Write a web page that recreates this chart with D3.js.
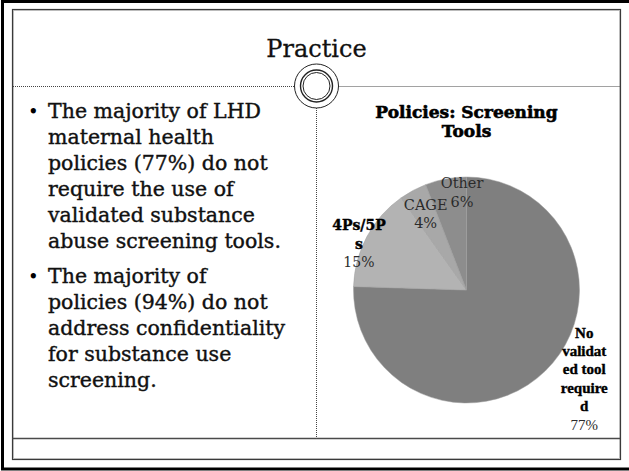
<!DOCTYPE html>
<html>
<head>
<meta charset="utf-8">
<script src="https://d3js.org/d3.v7.min.js"></script>
<style>
  body { margin: 0; background: #fff; }
</style>
</head>
<body>
<div id="slide"></div>

<script type="text/javascript">
  // slide texts
  var slideTitle = "Practice";
  var bulletOne = ["The majority of LHD", "maternal health", "policies (77%) do not",
                   "require the use of", "validated substance", "abuse screening tools."];
  var bulletTwo = ["The majority of", "policies (94%) do not", "address confidentiality",
                   "for substance use", "screening."];

  // pie data
  var chartTitle = ["Policies: Screening", "Tools"];
  var categories = ["No validated tool required", "4Ps/5Ps", "CAGE", "Other"];
  var percents = [77, 15, 4, 6];
  var sliceLabels = [
    ["No", "validat", "ed tool", "require", "d", "77%"],
    ["4Ps/5P", "s", "15%"],
    ["CAGE", "4%"],
    ["Other", "6%"]
  ];

  var W = 629, H = 471;
  var svg = d3.select("#slide").append("svg")
      .attr("width", W)
      .attr("height", H);

  svg.append("rect").attr("width", W).attr("height", H).attr("fill", "#fff");

  // Frame
  svg.append("rect")
    .attr("x", 2.5).attr("y", 1.5).attr("width", 640).attr("height", 467.5)
    .attr("fill", "none").attr("stroke", "#000").attr("stroke-width", 3);
  svg.append("rect")
    .attr("x", 12.5).attr("y", 9.5).attr("width", 608).attr("height", 450)
    .attr("fill", "none").attr("stroke", "#3a3a3a").attr("stroke-width", 1.2);
  svg.append("rect")
    .attr("x", 13.5).attr("y", 10.5).attr("width", 606).attr("height", 448)
    .attr("fill", "none").attr("stroke", "#b0b0b0").attr("stroke-width", 0.8);

  // Divider lines
  var ring = { x: 316.5, y: 86 };
  svg.append("line")
    .attr("x1", 13).attr("x2", ring.x - 22).attr("y1", 86.5).attr("y2", 86.5)
    .attr("stroke", "#444").attr("stroke-dasharray", "1,1");
  svg.append("line")
    .attr("x1", ring.x + 22).attr("x2", 620).attr("y1", 86.5).attr("y2", 86.5)
    .attr("stroke", "#444").attr("stroke-dasharray", "1,1");
  svg.append("line")
    .attr("x1", ring.x).attr("x2", ring.x).attr("y1", ring.y + 22).attr("y2", 438)
    .attr("stroke", "#444").attr("stroke-dasharray", "1,1");
  svg.append("line")
    .attr("x1", 12.5).attr("x2", 620).attr("y1", 438.5).attr("y2", 438.5)
    .attr("stroke", "#4a4a4a").attr("stroke-width", 1.3);

  // Ring ornament
  [[22, 1], [16, 1.4], [13.5, 1]].forEach(function (c) {
    svg.append("circle")
      .attr("cx", ring.x).attr("cy", ring.y).attr("r", c[0])
      .attr("fill", "#fff").attr("stroke", "#222").attr("stroke-width", c[1]);
  });

  // Title
  svg.append("text")
    .attr("x", ring.x).attr("y", 57)
    .attr("text-anchor", "middle")
    .style("font-family", "DejaVu Serif")
    .style("font-size", "24px")
    .style("fill", "#111")
    .style("stroke", "#111")
    .style("stroke-width", "0.3px")
    .text(slideTitle);

  // Bullets
  function drawBullet(lines, y0) {
    var g = svg.append("g");
    g.append("text")
      .attr("x", 28).attr("y", y0)
      .style("font-family", "DejaVu Serif")
      .style("font-size", "18px")
      .text("\u2022");
    g.selectAll("text.line")
      .data(lines)
      .enter()
      .append("text")
        .attr("class", "line")
        .attr("x", 48)
        .attr("y", function (d, i) { return y0 + i * 26; })
        .style("font-family", "DejaVu Serif")
        .style("font-size", "20.5px")
        .style("fill", "#111")
        .style("stroke", "#111")
        .style("stroke-width", "0.4px")
        .text(function (d) { return d; });
  }
  drawBullet(bulletOne, 118);
  drawBullet(bulletTwo, 283);

  // Pie chart
  var cx = 466.5, cy = 290, radius = 113;
  var colors = d3.scaleOrdinal()
    .domain(categories)
    .range(["#7f7f7f", "#b3b3b3", "#a8a8a8", "#8d8d8d"]);

  svg.selectAll("text.ctitle")
    .data(chartTitle)
    .enter()
    .append("text")
      .attr("class", "ctitle")
      .attr("x", cx)
      .attr("y", function (d, i) { return 118 + i * 19; })
      .attr("text-anchor", "middle")
      .style("font-family", "DejaVu Serif")
      .style("font-weight", "bold")
      .style("font-size", "17px")
      .style("fill", "#000")
      .style("stroke", "#000")
      .style("stroke-width", "0.6px")
      .text(function (d) { return d; });

  var pie = d3.pie().sort(null).value(function (d) { return d.value; });
  var arc = d3.arc().innerRadius(0).outerRadius(radius);
  var pieData = categories.map(function (c, i) {
    return { name: c, value: percents[i], lines: sliceLabels[i] };
  });

  var pg = svg.append("g").attr("transform", "translate(" + cx + "," + cy + ")");
  pg.selectAll("path")
    .data(pie(pieData))
    .enter()
    .append("path")
      .attr("d", arc)
      .attr("fill", function (d) { return colors(d.data.name); })
      .attr("stroke", "#9c9c9c")
      .attr("stroke-width", 0.5);

  // label placement (polar: degrees clockwise from top, radius) and styling
  var labelPlace = [
    { a: 112, r: 127, bold: [1, 1, 1, 1, 1, 0], font: "Liberation Serif", size: 15 },
    { a: 299, r: 123, bold: [1, 1, 0], font: "DejaVu Serif", size: 14 },
    { a: 333, r: 90, bold: [0, 0], font: "DejaVu Serif", size: 14.5 },
    { a: 357.5, r: 102, bold: [0, 0], font: "DejaVu Serif", size: 14.5 }
  ];

  pieData.forEach(function (d, i) {
    var p = labelPlace[i];
    var rad = p.a * Math.PI / 180;
    var lx = p.r * Math.sin(rad), ly = -p.r * Math.cos(rad);
    pg.append("g")
      .selectAll("text")
      .data(d.lines)
      .enter()
      .append("text")
        .attr("x", lx)
        .attr("y", function (t, j) { return ly + j * 18.4; })
        .attr("text-anchor", "middle")
        .style("font-family", p.font)
        .style("font-size", p.size + "px")
        .style("font-weight", function (t, j) { return p.bold[j] ? "bold" : "normal"; })
        .style("fill", function (t, j) { return p.bold[j] ? "#000" : "#2b2b2b"; })
        .style("stroke", function (t, j) { return p.bold[j] ? "#000" : "none"; })
        .style("stroke-width", "0.4px")
        .text(function (t) { return t; });
  });
</script>
</body>
</html>
